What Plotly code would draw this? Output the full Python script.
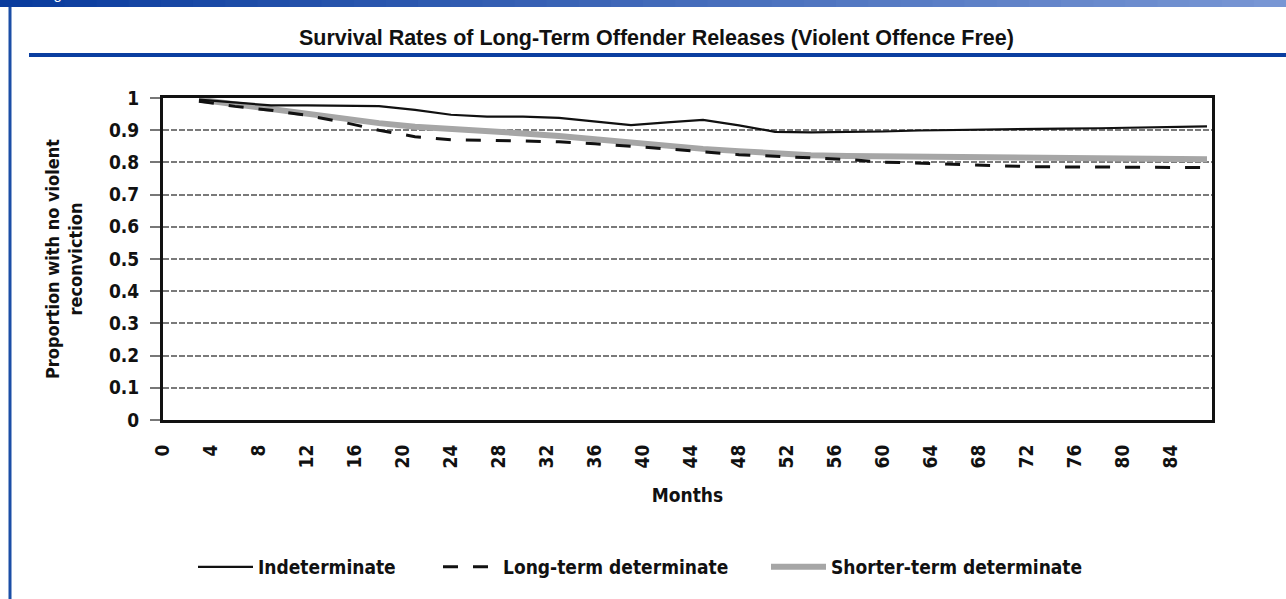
import plotly.graph_objects as go

# ---- data ----
months = [3, 6, 9, 12, 15, 18, 21, 24, 27, 30, 33, 36, 39, 42, 45, 48, 51, 54,
          57, 60, 63, 66, 69, 72, 75, 78, 81, 84, 87]
indeterminate = [0.995, 0.985, 0.977, 0.977, 0.977, 0.975, 0.963, 0.948, 0.942,
                 0.942, 0.938, 0.926, 0.916, 0.924, 0.932, 0.915, 0.895, 0.893,
                 0.894, 0.896, 0.899, 0.901, 0.902, 0.903, 0.905, 0.906, 0.908,
                 0.909, 0.912]
long_term = [0.990, 0.974, 0.962, 0.946, 0.925, 0.900, 0.880, 0.870, 0.869,
             0.867, 0.864, 0.858, 0.851, 0.842, 0.833, 0.824, 0.819, 0.815,
             0.809, 0.801, 0.797, 0.793, 0.791, 0.787, 0.786, 0.786, 0.784,
             0.784, 0.784]
shorter_term = [0.995, 0.980, 0.966, 0.953, 0.938, 0.922, 0.911, 0.905, 0.898,
                0.890, 0.882, 0.871, 0.860, 0.850, 0.842, 0.835, 0.828, 0.822,
                0.820, 0.819, 0.818, 0.817, 0.817, 0.815, 0.814, 0.813, 0.811,
                0.810, 0.810]
series_names = ["Indeterminate", "Long-term determinate", "Shorter-term determinate"]
x_ticks = list(range(0, 85, 4))
y_ticks = [0, 0.1, 0.2, 0.3, 0.4, 0.5, 0.6, 0.7, 0.8, 0.9, 1]
y_tick_text = ["0", "0.1", "0.2", "0.3", "0.4", "0.5", "0.6", "0.7", "0.8", "0.9", "1"]

# ---- layout geometry ----
W, H = 1286, 599
L, R, T, B = 163, 1212, 98, 420
def px(x):
    return (x - L) / (R - L)
def py(y):
    return (B - y) / (B - T)

NARROW = "DejaVu Sans Condensed, Liberation Sans Narrow, Arial Narrow, sans-serif"
ARIAL = "Liberation Sans, Arial, sans-serif"

fig = go.Figure()
fig.add_trace(go.Scatter(x=months, y=shorter_term, mode="lines",
                         name="<b>%s</b>" % series_names[2], legend="legend3",
                         line=dict(color="#a6a6a6", width=6)))
fig.add_trace(go.Scatter(x=months, y=indeterminate, mode="lines",
                         name="<b>%s</b>" % series_names[0], legend="legend",
                         line=dict(color="#111111", width=2.2)))
fig.add_trace(go.Scatter(x=months, y=long_term, mode="lines",
                         name="<b>%s</b>" % series_names[1], legend="legend2",
                         line=dict(color="#111111", width=3, dash="15px,15px")))

shapes = []
# header gradient bar
n = 40
c0 = (10, 60, 158)
c1 = (120, 150, 212)
for i in range(n):
    t = i / (n - 1)
    col = "rgb(%d,%d,%d)" % tuple(int(a + (b - a) * t) for a, b in zip(c0, c1))
    shapes.append(dict(type="rect", xref="paper", yref="paper",
                       x0=px(i * W / n), x1=px((i + 1) * W / n + 1),
                       y0=py(7), y1=py(-2), fillcolor=col, line=dict(width=0), layer="above"))
# left blue border
shapes.append(dict(type="line", xref="paper", yref="paper", x0=px(10), x1=px(10),
                   y0=py(7), y1=py(H + 5), line=dict(color="#1b4ea6", width=3)))
# blue underline under the title
shapes.append(dict(type="line", xref="paper", yref="paper", x0=px(29), x1=px(W + 5),
                   y0=py(55), y1=py(55), line=dict(color="#0a3ea0", width=4)))

legend_common = dict(orientation="h", yanchor="middle", y=py(567), xanchor="left",
                     font=dict(family=NARROW, size=19, color="#111111"),
                     itemwidth=55, bgcolor="rgba(0,0,0,0)")

fig.update_layout(
    width=W, height=H,
    margin=dict(l=L, r=W - R, t=T, b=H - B, autoexpand=False),
    paper_bgcolor="white", plot_bgcolor="white",
    showlegend=True,
    legend=dict(legend_common, x=px(193)),
    legend2=dict(legend_common, x=px(438)),
    legend3=dict(legend_common, x=px(766)),
    shapes=shapes,
    annotations=[
        dict(text="<b>Survival Rates of Long-Term Offender Releases (Violent Offence Free)</b>",
             xref="paper", yref="paper", x=px(656), y=py(38), xanchor="center", yanchor="middle",
             showarrow=False, font=dict(family=ARIAL, size=21.5, color="#111111")),
        dict(text="Figure", xref="paper", yref="paper", x=px(40), y=py(3), xanchor="left",
             yanchor="bottom", showarrow=False, borderpad=0,
             font=dict(family=ARIAL, size=15, color="white")),
    ],
)

fig.update_xaxes(
    range=[0, (R - L) / 12.0], tickmode="array", tickvals=x_ticks,
    ticktext=["<b>%d</b>" % v for v in x_ticks], tickangle=-90,
    tickfont=dict(family=NARROW, size=19, color="#111111"),
    ticks="", ticklabelstandoff=14,
    showgrid=False, zeroline=False,
    showline=True, linecolor="#111111", linewidth=3, mirror=True,
    title=dict(text="<b>Months</b>", font=dict(family=NARROW, size=19, color="#111111"), standoff=22),
)
fig.update_yaxes(
    range=[0, 1], tickmode="array", tickvals=y_ticks,
    ticktext=["<b>%s</b>" % t for t in y_tick_text],
    tickfont=dict(family=NARROW, size=19, color="#111111"),
    ticks="outside", ticklen=10, tickcolor="#777777", tickwidth=1.5,
    ticklabelstandoff=7,
    showgrid=True, gridcolor="#7a7a7a", gridwidth=1.5, griddash="6px,2px",
    zeroline=False,
    showline=True, linecolor="#111111", linewidth=3, mirror=True,
    title=dict(text="<b>Proportion with no violent<br>reconviction</b>",
               font=dict(family=NARROW, size=18, color="#111111"), standoff=22),
)

fig.write_html("out.html", config={"displayModeBar": False},
               post_script="document.body.style.margin='0px';")
